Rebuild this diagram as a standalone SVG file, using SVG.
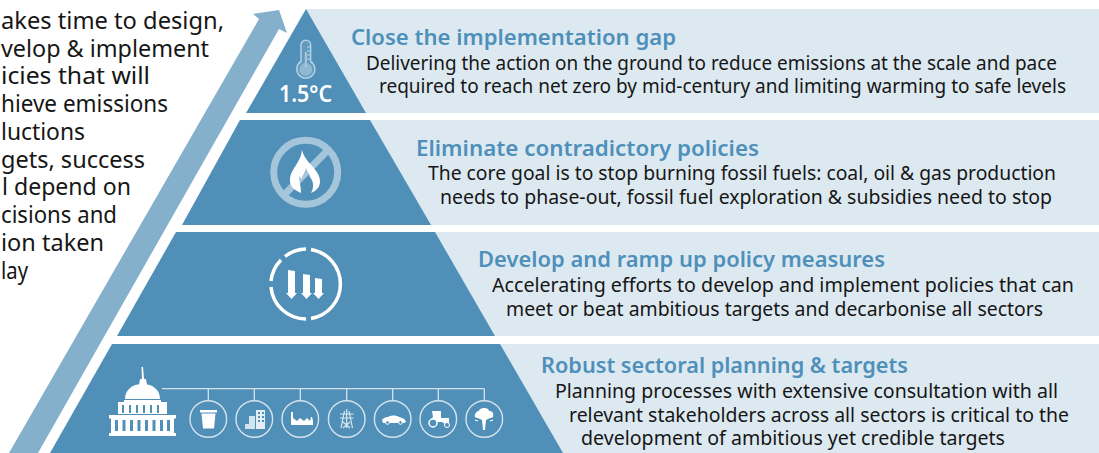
<svg xmlns="http://www.w3.org/2000/svg" width="1099" height="453" viewBox="0 0 1099 453">
<style>
text{font-family:"Noto Sans","Open Sans","Liberation Sans",sans-serif}
.h{font-size:22px;font-weight:600;fill:#4f90ba}
.b{font-size:19px;fill:#161616}
.l{font-size:24px;fill:#161616}
.panel{fill:#dde9f1}
.tier{fill:#508fb8}
.ring{fill:none;stroke:#d5e3ec;stroke-width:1.4}
.w{fill:#fff}
.ws{fill:none;stroke:#fff;stroke-width:1.2}
.conn{fill:none;stroke:#d5e3ec;stroke-width:1.3}
</style>
<rect width="1099" height="453" fill="#fff"/>
<g id="left-text">
<text class="l" x="1" y="29" textLength="223" lengthAdjust="spacingAndGlyphs">akes time to design,</text>
<text class="l" x="1" y="57" textLength="208" lengthAdjust="spacingAndGlyphs">velop &amp; implement</text>
<text class="l" x="1" y="84" textLength="149" lengthAdjust="spacingAndGlyphs">icies that will</text>
<text class="l" x="1" y="112" textLength="167" lengthAdjust="spacingAndGlyphs">hieve emissions</text>
<text class="l" x="1" y="140" textLength="84" lengthAdjust="spacingAndGlyphs">luctions</text>
<text class="l" x="1" y="168" textLength="144" lengthAdjust="spacingAndGlyphs">gets, success</text>
<text class="l" x="2" y="195" textLength="129" lengthAdjust="spacingAndGlyphs">l depend on</text>
<text class="l" x="1" y="223" textLength="116" lengthAdjust="spacingAndGlyphs">cisions and</text>
<text class="l" x="1" y="251" textLength="103" lengthAdjust="spacingAndGlyphs">ion taken</text>
<text class="l" x="1" y="279" textLength="27" lengthAdjust="spacingAndGlyphs">lay</text>
</g>
<polygon id="arrow" points="9,453 259,19 253,14 279,10 287,33 279,29 38,453" fill="#85b0cc"/>
<g id="tier-1">
<rect class="panel" x="306" y="9" width="793" height="104"/>
<polygon class="tier" points="306,9 366,113 246,113"/>
<g>
<path d="M301 45a4.800 4.800 0 0 1 9.600 0v16.500a9 9 0 1 1-9.600 0z" fill="#5f9abf" stroke="#b7d1e2" stroke-width="1.500"/>
<circle cx="305.800" cy="69.500" r="6.500" fill="#8fb8d1"/>
<path d="M305.800 52v15" stroke="#a9c8dc" stroke-width="2"/>
<path d="M307 47h3M307 51h3M307 55h3M307 59h3" stroke="#b7d1e2"/>
</g>
<text x="279" y="102" font-size="24" font-weight="600" fill="#fff" textLength="53" lengthAdjust="spacingAndGlyphs">1.5°C</text>
<text class="h" x="351" y="45" textLength="325" lengthAdjust="spacingAndGlyphs">Close the implementation gap</text>
<text class="b" x="366" y="70" textLength="691" lengthAdjust="spacingAndGlyphs">Delivering the action on the ground to reduce emissions at the scale and pace</text>
<text class="b" x="379" y="93" textLength="687" lengthAdjust="spacingAndGlyphs">required to reach net zero by mid-century and limiting warming to safe levels</text>
</g>
<g id="tier-2">
<rect class="panel" x="306" y="120" width="793" height="105"/>
<polygon class="tier" points="240,120 370,120 431,225 182,225"/>
<circle cx="305.700" cy="172.300" r="32" fill="none" stroke="#a5c6da" stroke-width="7"/>
<path d="M328 150 284 195" stroke="#a5c6da" stroke-width="7"/>
<path d="M302 150c2 10 11 15 16 24 5 10 0 16-7 19 3-5 3-11-1-16-1-4-3-6-4-9-1 5-4 7-4 11l-3-3c0 5 2 10 2 17-7-3-12-7-11-15 1-9 11-16 12-28z" class="w"/>
<text class="h" x="416" y="156" textLength="343" lengthAdjust="spacingAndGlyphs">Eliminate contradictory policies</text>
<text class="b" x="428" y="180" textLength="628" lengthAdjust="spacingAndGlyphs">The core goal is to stop burning fossil fuels: coal, oil &amp; gas production</text>
<text class="b" x="440" y="204" textLength="612" lengthAdjust="spacingAndGlyphs">needs to phase-out, fossil fuel exploration &amp; subsidies need to stop</text>
</g>
<g id="tier-3">
<rect class="panel" x="306" y="232" width="793" height="104"/>
<polygon class="tier" points="176,232 435,232 495,336 117,336"/>
<g fill="none" stroke="#fff" stroke-width="3.500">
<path d="M311 249.500A35 35 0 0 1 311 318.600"/>
<path d="M306 319A35 35 0 0 1 271 287"/>
<path d="M271 281A35 35 0 0 1 281 260"/>
<path d="M285 256.500A35 35 0 0 1 306 249"/>
</g>
<g class="w">
<polygon points="288,270 295,271 295,293 297,293 291.500,299 286,293 288,293"/>
<polygon points="303,274 310,275 310,293 312,293 306.500,299 301,293 303,293"/>
<polygon points="315,278 322,279 322,293 324,293 318.500,299 313,293 315,293"/>
</g>
<text class="h" x="478" y="267" textLength="407" lengthAdjust="spacingAndGlyphs">Develop and ramp up policy measures</text>
<text class="b" x="492" y="292" textLength="582" lengthAdjust="spacingAndGlyphs">Accelerating efforts to develop and implement policies that can</text>
<text class="b" x="506" y="316" textLength="537" lengthAdjust="spacingAndGlyphs">meet or beat ambitious targets and decarbonise all sectors</text>
</g>
<g id="tier-4">
<rect class="panel" x="306" y="344" width="793" height="109"/>
<polygon class="tier" points="112,344 500,344 563,453 50,453"/>
<g id="capitol" class="w">
<path d="M141.500 367h1.500l1 12h2l1 6h-8l1-6h2z"/>
<path d="M125 399c0-9 7-15 17.500-15s17.500 6 17.500 15z"/>
<rect x="124" y="400" width="37" height="2"/>
<rect x="118" y="402" width="49" height="2.500"/>
<path d="M118 404h49v10h-49zM122 405v8h2v-8zM129 405v8h2v-8zM136 405v8h2v-8zM143 405v8h2v-8zM150 405v8h2v-8zM157 405v8h2v-8z" fill-rule="evenodd"/>
<rect x="109" y="415" width="67" height="3.500"/>
<path d="M111 418h63v15h-63zM115 420v11h3v-11zM122.500 420v11h3v-11zM130 420v11h3v-11zM137.500 420v11h3v-11zM145 420v11h3v-11zM152.500 420v11h3v-11zM160 420v11h3v-11zM167 420v11h3v-11z" fill-rule="evenodd"/>
<rect x="109" y="433" width="67" height="3"/>
</g>
<g id="sectors">
<g id="waste"><circle class="ring" cx="208.300" cy="419" r="18.300"/><path class="w" d="M200 410h17v2.500h-17zM201.500 413.500h14l-1.500 15h-11z"/></g>
<g id="buildings"><circle class="ring" cx="254.300" cy="419" r="18.300"/><path class="w" fill-rule="evenodd" opacity=".85" d="M256 410h9v19h-9zM258 412v2h2v-2zM262 412v2h2v-2zM258 416v2h2v-2zM262 416v2h2v-2zM258 420v2h2v-2zM262 420v2h2v-2z"/><path class="w" opacity=".75" d="M249 416h6v13h-6zM245 424h4v5h-4z"/></g>
<g id="industry"><circle class="ring" cx="300.300" cy="419" r="18.300"/><path class="w" d="M291 425v-13h2v6l4 3 3-3 4 3 3-3 3 3 1-4h1l1 4v4z"/></g>
<g id="power"><circle class="ring" cx="346.700" cy="419" r="18.300"/><path class="ws" opacity=".8" d="M346.700 409v19M344.500 411 341 428M349 411l3.500 17M340 414h13.500M340 418h13.500M343 422l7 6M350 422l-7 6"/></g>
<g id="transport"><circle class="ring" cx="392.700" cy="419" r="18.300"/><path class="w" d="M382 420c1-2 4-3 6-3 3-2 8-2 11 0 2 1 5 1 6 3l1 2-2 1h-21z"/><circle cx="387.500" cy="422.500" r="1.800" fill="#508fb8" stroke="#fff"/><circle cx="400.500" cy="422.500" r="1.800" fill="#508fb8" stroke="#fff"/></g>
<g id="agriculture"><circle class="ring" cx="438.300" cy="419" r="18.300"/><path class="w" d="M432 411h9v7h8v6h-4l-3-2h-6l-3 0h-2v-3l2-2z"/><circle cx="433" cy="423" r="4" fill="#508fb8" stroke="#fff" stroke-width="1.500"/><circle cx="447" cy="425" r="2.500" fill="#508fb8" stroke="#fff"/></g>
<g id="forestry"><circle class="ring" cx="484.300" cy="419" r="18.300"/><path class="w" d="M484 408c3 0 5 1 5 3 3 0 5 2 4 4 1 2-1 3-3 3l-4 2-1 10h-2l-1-10-4-2c-2 0-4-1-3-3 0-2 2-4 4-4 0-2 3-3 5-3z"/><path d="M478 421l-3-1M490 421l3-1" class="ws"/></g>
</g>
<g id="connectors">
<path class="conn" d="M162 388.700H484.300M208.300 388.700V400.700M254.300 388.700V400.700M300.300 388.700V400.700M346.700 388.700V400.700M392.700 388.700V400.700M438.300 388.700V400.700M484.300 388.700V400.700"/>
</g>
<text class="h" x="541" y="373" textLength="367" lengthAdjust="spacingAndGlyphs">Robust sectoral planning &amp; targets</text>
<text class="b" x="555" y="398" textLength="503" lengthAdjust="spacingAndGlyphs">Planning processes with extensive consultation with all</text>
<text class="b" x="569" y="422" textLength="500" lengthAdjust="spacingAndGlyphs">relevant stakeholders across all sectors is critical to the</text>
<text class="b" x="581" y="445" textLength="424" lengthAdjust="spacingAndGlyphs">development of ambitious yet credible targets</text>
</g>
</svg>
